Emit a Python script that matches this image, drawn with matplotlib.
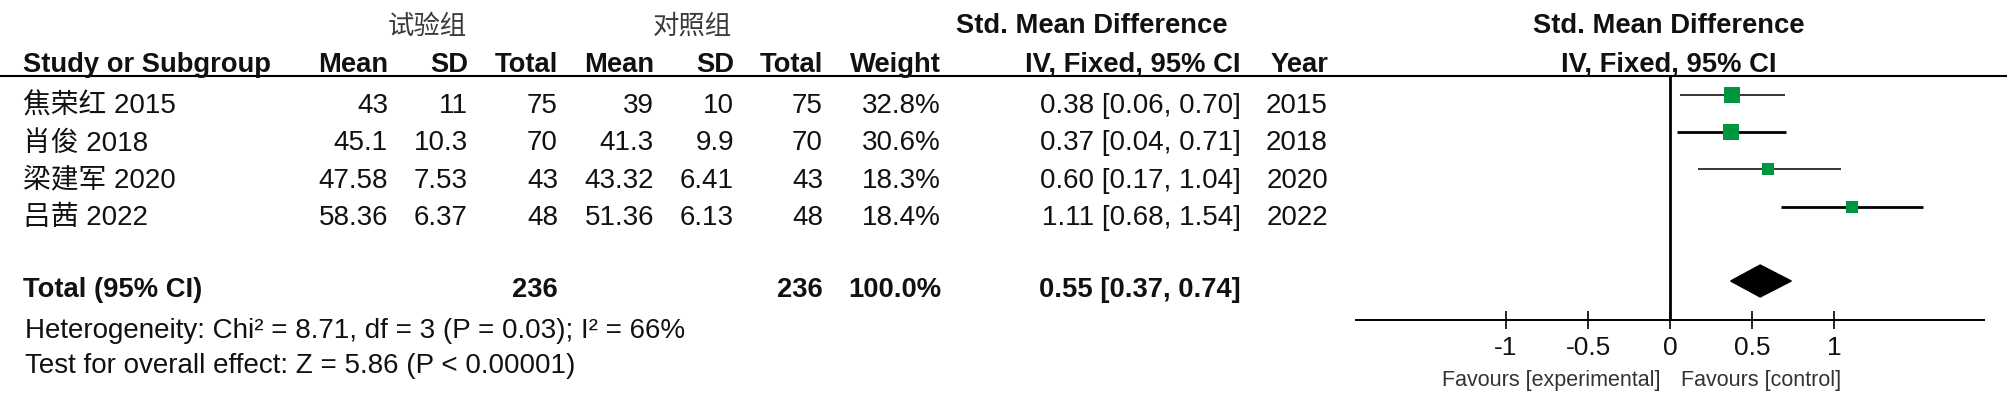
import numpy as np
import matplotlib
matplotlib.use("Agg")
import matplotlib.pyplot as plt
from matplotlib.patches import Polygon

# data
studies = ["焦荣红 2015", "肖俊 2018", "梁建军 2020", "吕茜 2022"]
exp_mean = [43, 45.1, 47.58, 58.36]
exp_sd = [11, 10.3, 7.53, 6.37]
exp_n = [75, 70, 43, 48]
ctl_mean = [39, 41.3, 43.32, 51.36]
ctl_sd = [10, 9.9, 6.41, 6.13]
ctl_n = [75, 70, 43, 48]
weight = [32.8, 30.6, 18.3, 18.4]
smd = [0.38, 0.37, 0.60, 1.11]
ci_lo = [0.06, 0.04, 0.17, 0.68]
ci_hi = [0.70, 0.71, 1.04, 1.54]
years = [2015, 2018, 2020, 2022]
total_exp, total_ctl, total_weight = 236, 236, 100.0
total_smd, total_lo, total_hi = 0.55, 0.37, 0.74
ticks = [-1, -0.5, 0, 0.5, 1]
tick_labels = ["-1", "-0.5", "0", "0.5", "1"]
heterogeneity = "Heterogeneity: Chi² = 8.71, df = 3 (P = 0.03); I² = 66%"
overall = "Test for overall effect: Z = 5.86 (P < 0.00001)"

W, H = 2008, 398
FONT = ["Liberation Sans", "Noto Sans CJK SC", "DejaVu Sans"]
TXT = "#111111"
FS = 20
FSB = 19.7

fig = plt.figure(figsize=(W / 100, H / 100), dpi=100)
bg = fig.add_axes([0, 0, 1, 1])
bg.set_xlim(0, W)
bg.set_ylim(H, 0)
bg.axis("off")

def put(x, y, s, ha="right", bold=False, size=None, color=TXT, fam=FONT):
    bg.text(x, y, s, ha=ha, va="baseline", fontsize=size or (FSB if bold else FS),
            fontweight="bold" if bold else "normal", color=color, family=fam)

# group headers
put(427, 34, "试验组", ha="center", size=19, color="#3a3a3a", fam=["Noto Sans CJK SC"])
put(692, 34, "对照组", ha="center", size=19, color="#3a3a3a", fam=["Noto Sans CJK SC"])
put(1092, 33, "Std. Mean Difference", ha="center", bold=True)
put(1669, 33, "Std. Mean Difference", ha="center", bold=True)

# column headers
cols_x = [388, 468, 558, 654, 734, 823, 941]
heads = ["Mean", "SD", "Total", "Mean", "SD", "Total", "Weight"]
put(23, 72, "Study or Subgroup", ha="left", bold=True)
for x, h in zip(cols_x, heads):
    put(x, 72, h, bold=True)
put(1241, 72, "IV, Fixed, 95% CI", bold=True)
put(1328, 72, "Year", bold=True)
put(1669, 72, "IV, Fixed, 95% CI", ha="center", bold=True)
bg.plot([0, W], [76, 76], color="black", lw=1.5)

# study rows
for i in range(len(studies)):
    y = 113.3 + i * 37.2
    put(23, y, studies[i], ha="left")
    vals = [f"{exp_mean[i]:g}", f"{exp_sd[i]:g}", str(exp_n[i]),
            f"{ctl_mean[i]:g}", f"{ctl_sd[i]:g}", str(ctl_n[i]), f"{weight[i]:.1f}%"]
    for x, v in zip(cols_x, vals):
        put(x, y, v)
    put(1241, y, f"{smd[i]:.2f} [{ci_lo[i]:.2f}, {ci_hi[i]:.2f}]")
    put(1328, y, str(years[i]))

# total row
put(23, 297, "Total (95% CI)", ha="left", bold=True)
put(558, 297, str(total_exp), bold=True)
put(823, 297, str(total_ctl), bold=True)
put(941, 297, f"{total_weight:.1f}%", bold=True)
put(1241, 297, f"{total_smd:.2f} [{total_lo:.2f}, {total_hi:.2f}]", bold=True)
put(25, 338, heterogeneity, ha="left")
put(25, 373, overall, ha="left")

# forest panel
x0, x1, ytop, yaxis = 1356, 1984, 76, 320
ax = fig.add_axes([x0 / W, 1 - yaxis / H, (x1 - x0) / W, (yaxis - ytop) / H])
ax.set_xlim(-1.915, 1.915)
step = 37.2
ax.set_ylim((yaxis - 95) / step, (ytop - 95) / step)
ax.patch.set_alpha(0)
for s in ["top", "left", "right"]:
    ax.spines[s].set_visible(False)
ax.spines["bottom"].set_linewidth(1.4)
ax.set_yticks([])
ax.set_xticks(ticks)
ax.set_xticklabels(tick_labels, family=["Liberation Sans", "DejaVu Sans"], fontsize=19, color=TXT)
ax.tick_params(axis="x", direction="inout", length=13.5, width=1.2, pad=5)
ax.axvline(0, color="black", lw=2)

line_w = [1.1, 2.0, 1.1, 2.0]
for i in range(len(studies)):
    ax.plot([ci_lo[i], ci_hi[i]], [i, i], color="black", lw=line_w[i], solid_capstyle="butt")
    side = 2.8 * np.sqrt(weight[i]) * 0.72
    ax.scatter([smd[i]], [i], marker="s", s=side ** 2, color="#00963f", zorder=3, linewidths=0)

dh = 16 / step
ax.add_patch(Polygon([[total_lo, 5], [total_smd, 5 - dh], [total_hi, 5], [total_smd, 5 + dh]],
                     closed=True, color="black"))

put(1661, 386, "Favours [experimental]", size=15.5, color="#333333")
put(1681, 386, "Favours [control]", ha="left", size=15.5, color="#333333")

fig.savefig("out.png", dpi=100)
